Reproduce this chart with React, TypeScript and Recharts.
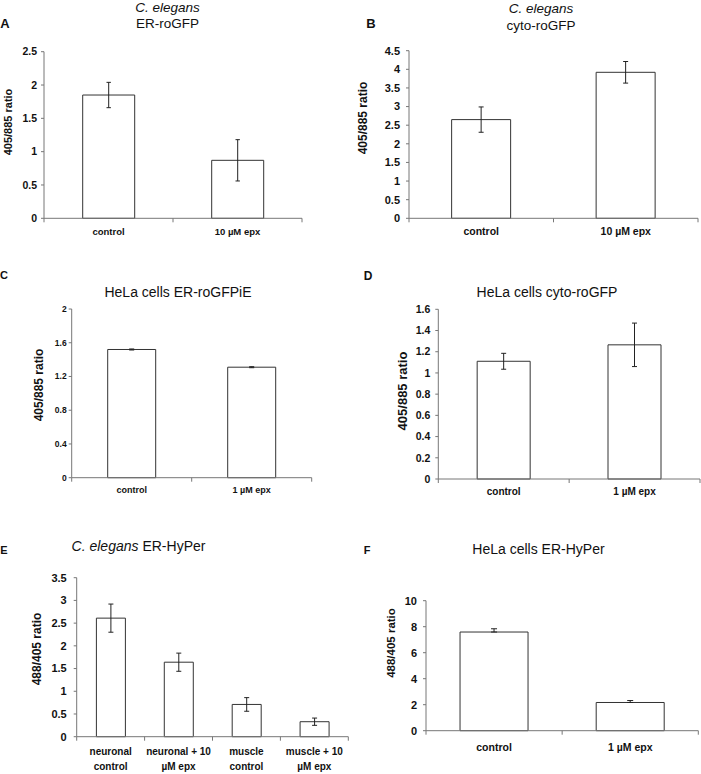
import React from "react";
import { BarChart, Bar, XAxis, YAxis, ErrorBar } from "recharts";

// ---- data ----
const catA = ["control", "10 µM epx"];
const valA = [1.85, 0.87];
const errA = [0.19, 0.31];
const tickA = [0, 0.5, 1, 1.5, 2, 2.5];

const catB = ["control", "10 µM epx"];
const valB = [2.65, 3.92];
const errB = [0.34, 0.29];
const tickB = [0, 0.5, 1, 1.5, 2, 2.5, 3, 3.5, 4, 4.5];

const catC = ["control", "1 µM epx"];
const valC = [1.52, 1.31];
const errC = [0.006, 0.006];
const tickC = [0, 0.4, 0.8, 1.2, 1.6, 2];

const catD = ["control", "1 µM epx"];
const valD = [1.11, 1.265];
const errD = [0.075, 0.205];
const tickD = [0, 0.2, 0.4, 0.6, 0.8, 1, 1.2, 1.4, 1.6];

const catE = ["neuronal\ncontrol", "neuronal + 10\nµM epx", "muscle\ncontrol", "muscle + 10\nµM epx"];
const valE = [2.61, 1.64, 0.71, 0.33];
const errE = [0.31, 0.2, 0.15, 0.08];
const tickE = [0, 0.5, 1, 1.5, 2, 2.5, 3, 3.5];

const catF = ["control", "1 µM epx"];
const valF = [7.59, 2.17];
const errF = [[0, 0.25], [0, 0.15]];
const tickF = [0, 2, 4, 6, 8, 10];

const FONT = '"Liberation Sans", Arial, sans-serif';
const AXIS = "#777";

const rows = (cats: string[], vals: number[], errs: any[]) =>
  cats.map((name, i) => ({ name, value: vals[i], err: errs[i] }));

function CatTick(props: any) {
  const { x, y, payload, index, cw, n, fontSize, dy, lineH } = props;
  const lines = String(payload.value).split("\n");
  return (
    <g>
      <line x1={x - cw / 2} x2={x - cw / 2} y1={y} y2={y + 4} stroke={AXIS} />
      {index === n - 1 && <line x1={x + cw / 2} x2={x + cw / 2} y1={y} y2={y + 4} stroke={AXIS} />}
      <text x={x} y={y + dy} textAnchor="middle" fontSize={fontSize} fontWeight="bold" fill="#111" fontFamily={FONT}>
        {lines.map((l, i) => (
          <tspan key={i} x={x} dy={i === 0 ? 0 : lineH}>
            {l}
          </tspan>
        ))}
      </text>
    </g>
  );
}

interface PanelProps {
  data: any[];
  ticks: number[];
  region: { x: number; y: number; w: number; h: number };
  plot: { l: number; t: number; r: number; b: number };
  tickFont: number;
  tickMargin: number;
  xFont: number;
  xDy: number;
  xHeight?: number;
  gap: string;
  capW: number;
}

function Panel({ data, ticks, region, plot, tickFont, tickMargin, xFont, xDy, xHeight = 30, gap, capW }: PanelProps) {
  const n = data.length;
  const cw = (plot.r - plot.l) / n;
  return (
    <div style={{ position: "absolute", left: region.x, top: region.y }}>
      <BarChart
        width={region.w}
        height={region.h}
        data={data}
        barCategoryGap={gap}
        margin={{
          top: plot.t - region.y,
          right: region.x + region.w - plot.r,
          left: 0,
          bottom: region.y + region.h - plot.b - xHeight,
        }}
      >
        <XAxis
          dataKey="name"
          height={xHeight}
          interval={0}
          tickSize={0}
          tickMargin={0}
          tickLine={false}
          axisLine={{ stroke: AXIS }}
          tick={(p: any) => <CatTick {...p} cw={cw} n={n} fontSize={xFont} dy={xDy} lineH={xFont * 1.5} />}
        />
        <YAxis
          width={plot.l - region.x}
          domain={[ticks[0], ticks[ticks.length - 1]]}
          ticks={ticks}
          interval={0}
          tickSize={3}
          tickMargin={tickMargin}
          axisLine={{ stroke: AXIS }}
          tickLine={{ stroke: AXIS }}
          tick={{ fill: "#111", fontSize: tickFont, fontWeight: "bold", fontFamily: FONT }}
        />
        <Bar dataKey="value" fill="#fff" stroke="#333" strokeWidth={1} isAnimationActive={false}>
          <ErrorBar dataKey="err" width={capW} stroke="#222" strokeWidth={1} />
        </Bar>
      </BarChart>
    </div>
  );
}

function Txt({ x, y, size, bold, italic, children, rotate }: any) {
  return (
    <div
      style={{
        position: "absolute",
        left: x,
        top: y,
        transform: `translate(-50%, -50%)${rotate ? " rotate(-90deg)" : ""}`,
        whiteSpace: "nowrap",
        fontFamily: FONT,
        fontSize: size,
        fontWeight: bold ? "bold" : "normal",
        fontStyle: italic ? "italic" : "normal",
        color: "#111",
        lineHeight: 1,
      }}
    >
      {children}
    </div>
  );
}

export default function App() {
  return (
    <div style={{ position: "absolute", left: 0, top: 0, width: 701, height: 774, background: "#fff", overflow: "hidden" }}>
      <Panel
        data={rows(catA, valA, errA)}
        ticks={tickA}
        region={{ x: 0, y: 0, w: 350, h: 260 }}
        plot={{ l: 44, t: 51.7, r: 302, b: 218.3 }}
        tickFont={10.5}
        tickMargin={4}
        xFont={9.5}
        xDy={17}
        gap="30%"
        capW={2.2}
      />
      <Panel
        data={rows(catB, valB, errB)}
        ticks={tickB}
        region={{ x: 350, y: 0, w: 351, h: 260 }}
        plot={{ l: 409, t: 50.7, r: 698, b: 218.3 }}
        tickFont={11}
        tickMargin={6}
        xFont={10.5}
        xDy={17}
        gap="29.5%"
        capW={2.5}
      />
      <Panel
        data={rows(catC, valC, errC)}
        ticks={tickC}
        region={{ x: 0, y: 260, w: 350, h: 250 }}
        plot={{ l: 71.7, t: 309, r: 311.7, b: 477.7 }}
        tickFont={8.5}
        tickMargin={2}
        xFont={9}
        xDy={15.5}
        gap="30%"
        capW={2.5}
      />
      <Panel
        data={rows(catD, valD, errD)}
        ticks={tickD}
        region={{ x: 350, y: 260, w: 351, h: 250 }}
        plot={{ l: 438.3, t: 309.3, r: 700, b: 479 }}
        tickFont={10.5}
        tickMargin={5}
        xFont={10}
        xDy={16.2}
        gap="29.7%"
        capW={2.5}
      />
      <Panel
        data={rows(catE, valE, errE)}
        ticks={tickE}
        region={{ x: 0, y: 510, w: 350, h: 264 }}
        plot={{ l: 76.7, t: 577.7, r: 348.3, b: 736.7 }}
        tickFont={11}
        tickMargin={7}
        xFont={10}
        xDy={18.5}
        xHeight={35}
        gap="29%"
        capW={2.5}
      />
      <Panel
        data={rows(catF, valF, errF)}
        ticks={tickF}
        region={{ x: 350, y: 510, w: 351, h: 264 }}
        plot={{ l: 426, t: 600.7, r: 698.3, b: 730.7 }}
        tickFont={11}
        tickMargin={6}
        xFont={10.5}
        xDy={20.5}
        gap="25%"
        capW={3}
      />

      {/* panel letters */}
      <Txt x={5} y={23} size={13} bold>A</Txt>
      <Txt x={371} y={23} size={13} bold>B</Txt>
      <Txt x={4} y={275} size={11} bold>C</Txt>
      <Txt x={368} y={276} size={12} bold>D</Txt>
      <Txt x={4} y={549.5} size={11} bold>E</Txt>
      <Txt x={367} y={549.5} size={11} bold>F</Txt>

      {/* titles */}
      <Txt x={167.5} y={8} size={13.5} italic>C. elegans</Txt>
      <Txt x={167.5} y={23.5} size={13.5}>ER-roGFP</Txt>
      <Txt x={541} y={9} size={13.5} italic>C. elegans</Txt>
      <Txt x={541} y={26} size={13.5}>cyto-roGFP</Txt>
      <Txt x={178} y={292} size={14}>HeLa cells ER-roGFPiE</Txt>
      <Txt x={547} y={292} size={14}>HeLa cells cyto-roGFP</Txt>
      <Txt x={138.5} y={546} size={14}>
        <i>C. elegans</i> ER-HyPer
      </Txt>
      <Txt x={538.5} y={549} size={14}>HeLa cells ER-HyPer</Txt>

      {/* y axis titles */}
      <Txt x={7.5} y={121.7} size={11} bold rotate>405/885 ratio</Txt>
      <Txt x={363} y={118.3} size={12} bold rotate>405/885 ratio</Txt>
      <Txt x={39} y={385} size={12} bold rotate>405/885 ratio</Txt>
      <Txt x={402} y={390.8} size={13} bold rotate>405/885 ratio</Txt>
      <Txt x={37} y={649} size={12} bold rotate>488/405 ratio</Txt>
      <Txt x={392} y={643} size={11.5} bold rotate>488/405 ratio</Txt>
    </div>
  );
}
